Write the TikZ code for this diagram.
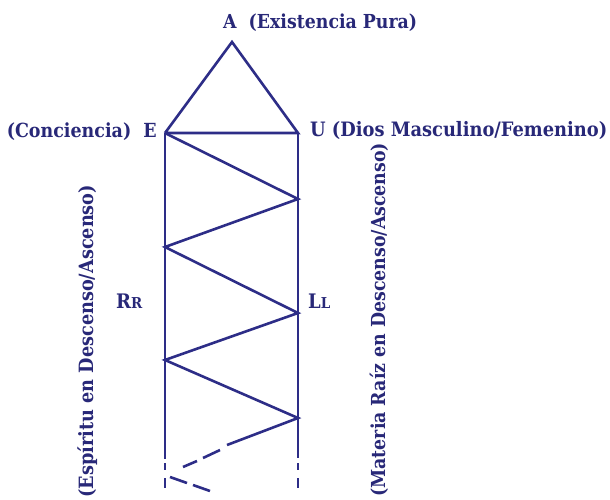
\documentclass[tikz,border=0pt]{standalone}
\usepackage{fontspec}
\setmainfont{DejaVu Serif Condensed}
\usepackage{graphicx}
\definecolor{navy}{RGB}{40,40,120}
\definecolor{lnavy}{RGB}{45,45,135}
\begin{document}
\begin{tikzpicture}[x=1pt,y=-1pt,
  ln/.style={draw=lnavy, line width=2.6pt},
  lbl/.style={inner sep=0pt, text=navy, font=\fontsize{19}{19}\selectfont\bfseries},
  smc/.style={inner sep=0pt, text=navy, font=\fontsize{20}{20}\selectfont\bfseries}]
\useasboundingbox (0,0) rectangle (610,499);
% main points
\coordinate (A) at (232,42);
\coordinate (E) at (165,133);
\coordinate (U) at (298,133);
\coordinate (R1) at (298,199);
\coordinate (L1) at (165,247);
\coordinate (R2) at (298,313);
\coordinate (L2) at (165,360);
\coordinate (R3) at (298,418);
\coordinate (Eend) at (165,459);
\coordinate (Uend) at (298,458);
\coordinate (Dend) at (227,445);
% dash pieces
\coordinate (le1a) at (165,463); \coordinate (le1b) at (165,470);
\coordinate (le2a) at (165,478); \coordinate (le2b) at (165,488);
\coordinate (re1a) at (298,463); \coordinate (re1b) at (298,470);
\coordinate (re2a) at (298,478); \coordinate (re2b) at (298,488);
\coordinate (d1a) at (220,450); \coordinate (d1b) at (203,458);
\coordinate (d2a) at (197,461); \coordinate (d2b) at (183,467);
\coordinate (d3a) at (170,477); \coordinate (d3b) at (187,483);
\coordinate (d4a) at (193,485); \coordinate (d4b) at (210,491);
% lines
\draw[ln, line join=miter] (E) -- (A) -- (U) -- (E);
\draw[ln] (E) -- (Eend);
\draw[ln] (U) -- (Uend);
\draw[ln, line join=miter] (E) -- (R1) -- (L1) -- (R2) -- (L2) -- (R3) -- (Dend);
\foreach \a/\b in {le1a/le1b, le2a/le2b, re1a/re1b, re2a/re2b, d1a/d1b, d2a/d2b, d3a/d3b, d4a/d4b}
  \draw[ln] (\a) -- (\b);
% labels
\node[lbl, anchor=base west] (tA) at (223,28) {\resizebox{194pt}{!}{A\ \ (Existencia Pura)}};
\node[lbl, anchor=base east] (tE) at (157,137) {\resizebox{150pt}{!}{(Conciencia)\ \ E}};
\node[lbl, anchor=base west] (tU) at (310,136) {\resizebox{297pt}{!}{U (Dios Masculino/Femenino)}};
\node[smc, anchor=base west] (tR) at (116,308) {R{\fontsize{15}{15}\selectfont R}};
\node[smc, anchor=base west] (tL) at (308,308) {L{\fontsize{15}{15}\selectfont L}};
\node[lbl, anchor=base west, rotate=90] (tEsp) at (93,498) {\resizebox{313pt}{!}{(Espíritu en Descenso/Ascenso)}};
\node[lbl, anchor=base west, rotate=90] (tMat) at (385,497) {\resizebox{354pt}{!}{(Materia Raíz en Descenso/Ascenso)}};
\end{tikzpicture}
\end{document}
